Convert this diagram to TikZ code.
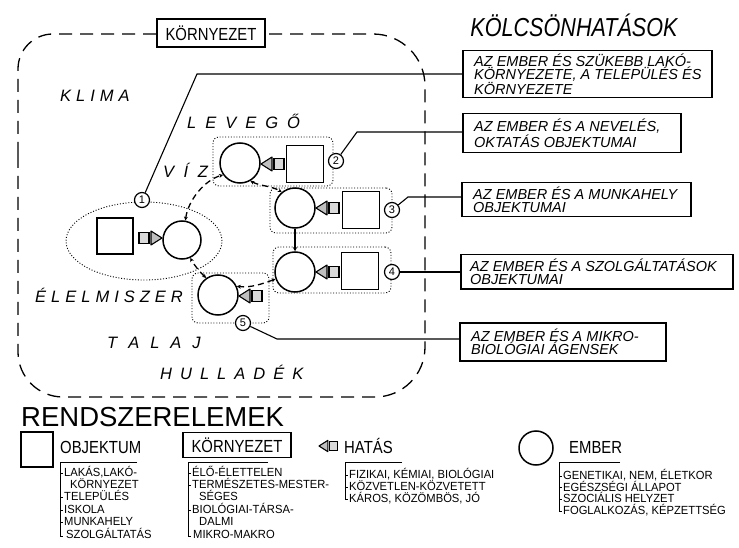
\documentclass[tikz,border=0pt]{standalone}
\usepackage{fontspec}
\setmainfont{Liberation Sans}
\newfontfamily\legfont[FakeStretch=0.85]{Liberation Sans}
\newfontfamily\listfont[FakeStretch=0.95]{Liberation Sans}
\newfontfamily\titlefont[FakeStretch=0.83]{Liberation Sans}
\usetikzlibrary{arrows.meta,shapes.geometric}
\newcommand\spaced[2]{\def\lsgap{\hspace{#1}}\lsfirst#2\relax}
\def\lsfirst#1{\ifx#1\relax\else#1\expandafter\lsnext\fi}
\def\lsnext#1{\ifx#1\relax\else\lsgap#1\expandafter\lsnext\fi}
\begin{document}
\begin{tikzpicture}[x=1pt,y=-1pt,
  every node/.style={inner sep=0pt},
  envline/.style={line width=1.3pt, dash pattern=on 13pt off 8pt},
  kbox/.style={draw, line width=1.5pt, anchor=north west},
  btext/.style={anchor=west, align=left, font=\itshape\fontsize{14.5}{13.5}\selectfont},
  ember/.style={draw, circle, line width=1.5pt, minimum size=40pt, fill=white},
  objekt/.style={draw, rectangle, line width=1.5pt, minimum size=37pt, fill=white},
  kframe/.style={draw, line width=0.9pt, dash pattern=on 1pt off 1.8pt, rounded corners=6pt},
  knum/.style={draw, circle, line width=1.2pt, minimum size=15pt, fill=white, font=\fontsize{11}{11}\selectfont},
  callout/.style={line width=1.1pt},
  cdash/.style={line width=1.3pt, dash pattern=on 6pt off 4pt, arrows={Stealth[length=4pt,width=4pt]-Stealth[length=4pt,width=4pt]}},
  land/.style={anchor=west, font=\itshape\fontsize{16.5}{16.5}\selectfont},
  leg/.style={anchor=west, font=\legfont\fontsize{17.5}{17.5}\selectfont},
  kitem/.style={anchor=west, text height=8pt, text depth=1pt, font=\listfont\fontsize{11.8}{11.8}\selectfont},
  brk/.style={line width=0.9pt},
  hatas/.pic={
    \draw[line width=1.1pt, fill=gray!50, line join=round] (0,0) -- (11,-7) -- (11,7) -- cycle;
    \draw[line width=1.1pt, fill=gray!30] (13,-5.5) rectangle (23,5.5);
  }
]
\fill[white] (0,0) rectangle (739,548);
\useasboundingbox (0,0) rectangle (739,548);

% environment border
\draw[envline] (18,200) [rounded corners=35pt] -- (18,34) -- (200,34) [rounded corners=52pt] -- (425,34) -- (425,200) [rounded corners=50pt] -- (425,397) -- (200,397) [rounded corners=45pt] -- (18,397) -- cycle;
\node[draw, line width=1.5pt, fill=white, minimum width=108pt, minimum height=28pt, font=\legfont\fontsize{17.5}{17.5}\selectfont] (env) at (211,33) {KÖRNYEZET};

\node[font=\titlefont\itshape\fontsize{26}{26}\selectfont] (title) at (574,25) {KÖLCSÖNHATÁSOK};

% dotted frames
\node[kframe, ellipse, minimum width=156pt, minimum height=78pt] (f1) at (144,241) {};
\node[kframe, rectangle, minimum width=120pt, minimum height=49pt] (f2) at (273,161.5) {};
\node[kframe, rectangle, minimum width=122pt, minimum height=45pt] (f3) at (331,210.5) {};
\node[kframe, rectangle, minimum width=118pt, minimum height=46pt] (f4) at (332,270) {};
\node[kframe, rectangle, minimum width=77pt, minimum height=50pt] (f5) at (230.5,298) {};

% objects
\node[objekt, minimum size=36pt] (o1) at (115,236) {};
\node[objekt] (o2) at (305,164) {};
\node[objekt] (o3) at (361,210) {};
\node[objekt] (o4) at (360,271) {};

% people
\node[ember, minimum size=38pt] (e1) at (182,240) {};
\node[ember] (e2) at (240,163) {};
\node[ember] (e3) at (295,208) {};
\node[ember] (e4) at (295,272) {};
\node[ember] (e5) at (218,295) {};

% effects
\pic[xscale=-1] at (162,238) {hatas};
\pic at (261,164) {hatas};
\pic at (316,208) {hatas};
\pic at (316,272) {hatas};
\pic at (239,296) {hatas};

% connectors between people
\draw[cdash] (e1.80) .. controls (188,200) and (205,180) .. (e2.215);
\draw[cdash] (e2.300) .. controls (260,186) and (272,186) .. (e3.130);
\draw[line width=1.3pt, -{Stealth[length=4pt,width=4pt]}] (e3.south) -- (e4.north);
\draw[cdash] (e4.200) .. controls (262,284) and (250,288) .. (e5.25);
\draw[cdash] (e5.125) .. controls (200,272) and (194,265) .. (e1.295);

% interaction boxes
\node[kbox, minimum width=249pt, minimum height=47pt] (b1) at (462,50) {};
\node[btext] (t1) at ([xshift=12pt]b1.west) {AZ EMBER ÉS SZÜKEBB LAKÓ-\\KÖRNYEZETE, A TELEPÜLÉS ÉS\\KÖRNYEZETE};
\node[kbox, minimum width=218pt, minimum height=39pt] (b2) at (462,113) {};
\node[btext] (t2) at ([xshift=12pt]b2.west) {AZ EMBER ÉS A NEVELÉS,\\OKTATÁS OBJEKTUMAI};
\node[kbox, minimum width=229pt, minimum height=34pt] (b3) at (461,182) {};
\node[btext] (t3) at ([xshift=12pt]b3.west) {AZ EMBER ÉS A MUNKAHELY\\OBJEKTUMAI};
\node[kbox, minimum width=272pt, minimum height=34pt] (b4) at (460,254) {};
\node[btext] (t4) at ([xshift=10pt]b4.west) {AZ EMBER ÉS A SZOLGÁLTATÁSOK\\OBJEKTUMAI};
\node[kbox, minimum width=206pt, minimum height=38pt] (b5) at (459,322) {};
\node[btext] (t5) at ([xshift=12pt]b5.west) {AZ EMBER ÉS A MIKRO-\\BIOLÓGIAI ÁGENSEK};

% numbers
\node[knum] (n1) at (142,200) {1};
\node[knum] (n2) at (336,161) {2};
\node[knum] (n3) at (392,210) {3};
\node[knum] (n4) at (392,272) {4};
\node[knum] (n5) at (243,323) {5};

% callouts
\coordinate (k1) at (197,74);
\coordinate (k2) at (357,132);
\coordinate (k3) at (408,197);
\coordinate (k5) at (277,339);
\draw[callout] (n1) -- (k1) -- (k1 -| b1.west);
\draw[callout] (n2) -- (k2) -- (k2 -| b2.west);
\draw[callout] (n3) -- (k3) -- (k3 -| b3.west);
\draw[callout] (n4) -- (n4 -| b4.west);
\draw[callout] (n5) -- (k5) -- (k5 -| b5.west);

% environment labels
\node[land] (klima) at (60,96) {\spaced{5pt}{KLIMA}};
\node[land] (levego) at (187,121) {\spaced{9pt}{LEVEGŐ}};
\node[land] (viz) at (163,170) {\spaced{9.5pt}{VÍZ}};
\node[land] (elel) at (35,295) {\spaced{5pt}{ÉLELMISZER}};
\node[land] (talaj) at (107,343) {\spaced{11pt}{TALAJ}};
\node[land] (hull) at (160,372) {\spaced{8pt}{HULLADÉK}};

% legend
\node[anchor=west, font=\fontsize{27.5}{27.5}\selectfont] (rend) at (21,417) {RENDSZERELEMEK};
\node[objekt, minimum width=32pt, minimum height=35pt] (lsq) at (37,449.5) {};
\node[leg] (lobj) at (60,447) {OBJEKTUM};
\node[draw, line width=1.5pt, minimum width=108pt, minimum height=25pt, font=\legfont\fontsize{17.5}{17.5}\selectfont] (lenv) at (237,445) {KÖRNYEZET};
\pic[scale=0.8] at (319,446) {hatas};
\node[leg] (lhat) at (344,446) {HATÁS};
\node[ember, minimum size=34pt] (lemb) at (536,448) {};
\node[leg] (lemt) at (569,447) {EMBER};

% list: objektum
\draw[brk] (137,462) -- (60,462) -- (60,536) -- (63,536);
\foreach \yy in {473,497,510,522} \draw[brk] (60,\yy) -- (63,\yy);
\node[kitem] (oa) at (64,473) {LAKÁS,LAKÓ-};
\node[kitem] (ob) at (70,485) {KÖRNYEZET};
\node[kitem] (oc) at (64,497) {TELEPÜLÉS};
\node[kitem] (od) at (64,510) {ISKOLA};
\node[kitem] (oe) at (64,522) {MUNKAHELY};
\node[kitem] (of) at (66,535) {SZOLGÁLTATÁS};

% list: kornyezet
\draw[brk] (268,462) -- (188,462) -- (188,536) -- (191,536);
\foreach \yy in {473,485,510} \draw[brk] (188,\yy) -- (191,\yy);
\node[kitem] (ka) at (192,473) {ÉLŐ-ÉLETTELEN};
\node[kitem] (kb) at (192,485) {TERMÉSZETES-MESTER-};
\node[kitem] (kc) at (199,497) {SÉGES};
\node[kitem] (kd) at (192,510) {BIOLÓGIAI-TÁRSA-};
\node[kitem] (ke) at (199,522) {DALMI};
\node[kitem] (kf) at (193,535) {MIKRO-MAKRO};

% list: hatas
\draw[brk] (402,462) -- (345,462) -- (345,499) -- (348,499);
\foreach \yy in {475,487} \draw[brk] (345,\yy) -- (348,\yy);
\node[kitem] (ha) at (349,475) {FIZIKAI, KÉMIAI, BIOLÓGIAI};
\node[kitem] (hb) at (349,487) {KÖZVETLEN-KÖZVETETT};
\node[kitem] (hc) at (349,499) {KÁROS, KÖZÖMBÖS, JÓ};

% list: ember
\draw[brk] (620,462) -- (559,462) -- (559,511) -- (562,511);
\foreach \yy in {476,487.5,499} \draw[brk] (559,\yy) -- (562,\yy);
\node[kitem] (ma) at (563,476) {GENETIKAI, NEM, ÉLETKOR};
\node[kitem] (mb) at (563,487.5) {EGÉSZSÉGI ÁLLAPOT};
\node[kitem] (mc) at (563,499) {SZOCIÁLIS HELYZET};
\node[kitem] (md) at (563,511) {FOGLALKOZÁS, KÉPZETTSÉG};
\end{tikzpicture}
\end{document}
